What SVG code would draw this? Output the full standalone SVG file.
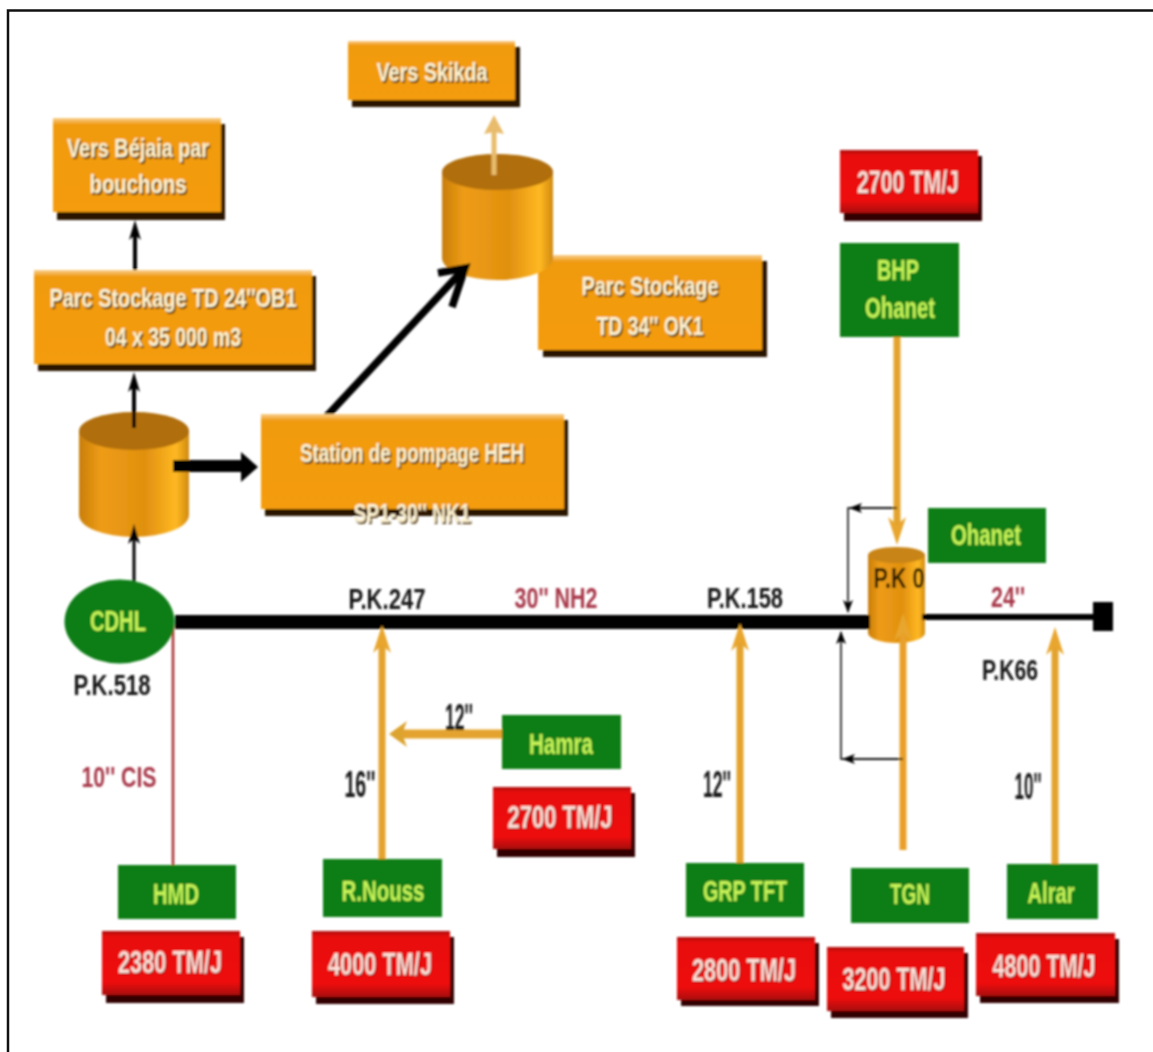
<svg xmlns="http://www.w3.org/2000/svg" width="1153" height="1052" viewBox="0 0 1153 1052">
<style>
text{font-family:"Liberation Sans",Arial,sans-serif;text-anchor:middle;font-weight:bold}
.o{fill:url(#og)}.os{fill:#2a1200}
.g{fill:#0b7d14}.r{fill:url(#rg)}.rs{fill:#300303}
.ot{fill:#fff4d2;font-size:26px;text-shadow:2px 2px 1px #5a3a00}
.gt{fill:#c8f458;font-size:29px}
.rt{fill:#fde0d6;font-size:31px;text-shadow:1px 1px 1px #600}
.bt{fill:#161616;font-size:30px}
.big{font-size:36px}
.dr{fill:#a8384a;font-size:30px}
.ga{stroke:#e3a32e;fill:none}.k{stroke:#000;fill:none}
</style>
<defs>
<filter id="soft" filterUnits="userSpaceOnUse" x="0" y="0" width="1153" height="1052"><feGaussianBlur stdDeviation="0.8"/></filter>
<linearGradient id="og" x1="0" y1="0" x2="0" y2="1"><stop offset="0" stop-color="#f8d090"/><stop offset=".07" stop-color="#f09a10"/><stop offset="1" stop-color="#f49c0e"/></linearGradient>
<linearGradient id="rg" x1="0" y1="0" x2="0" y2="1"><stop offset="0" stop-color="#a81010"/><stop offset=".08" stop-color="#e80c0c"/><stop offset=".8" stop-color="#ee0808"/><stop offset="1" stop-color="#a80808"/></linearGradient>
<linearGradient id="cy" x1="0" y1="0" x2="1" y2="0"><stop offset="0" stop-color="#c87e0c"/><stop offset=".2" stop-color="#ee9c14"/><stop offset=".6" stop-color="#e09010"/><stop offset=".88" stop-color="#ffb822"/><stop offset="1" stop-color="#d08a10"/></linearGradient>
<marker id="ak" markerUnits="userSpaceOnUse" markerWidth="24" markerHeight="14" refX="12" refY="7" orient="auto"><path d="M0 1L20 7L0 13L5 7Z" fill="#000"/></marker>
<marker id="ak2" markerUnits="userSpaceOnUse" markerWidth="14" markerHeight="12" refX="12" refY="6" orient="auto"><path d="M0 1L13 6L0 11L3 6Z" fill="#000"/></marker>
<marker id="ao" markerUnits="userSpaceOnUse" markerWidth="30" markerHeight="20" refX="16" refY="10" orient="auto"><path d="M0 1L28 10L0 19L8 10Z" fill="#e8a62e"/></marker>
<marker id="ao2" markerUnits="userSpaceOnUse" markerWidth="20" markerHeight="28" refX="12" refY="14" orient="auto"><path d="M0 1L18 14L0 27L5 14Z" fill="#dca32e"/></marker>
<marker id="ao3" markerUnits="userSpaceOnUse" markerWidth="20" markerHeight="22" refX="10" refY="11" orient="auto"><path d="M0 1L19 11L0 21L2 11Z" fill="#e8bc6c"/></marker>
</defs>
<path id="frame" d="M8 1052V10.500H1153" fill="none" stroke="#111" stroke-width="2.500"/>
<g filter="url(#soft)">
<g id="parc-ok1"><rect class="os" x="543" y="261" width="224" height="96"/><rect class="o" x="538" y="255" width="224" height="95"/><text class="ot" x="650" y="295" textLength="137" lengthAdjust="spacingAndGlyphs">Parc Stockage</text><text class="ot" x="650" y="335" textLength="107" lengthAdjust="spacingAndGlyphs">TD 34'' OK1</text></g>
<g id="tank-1"><path d="M79 431V515A55 22 0 0 0 189 515V431Z" fill="url(#cy)"/><ellipse cx="134" cy="431" rx="55" ry="19" fill="#b06e08"/></g>
<g id="tank-2"><path d="M442 172V258A55.500 22 0 0 0 553 258V172Z" fill="url(#cy)"/><ellipse cx="497.500" cy="172" rx="55.500" ry="18" fill="#b06e08"/></g>
<g id="tank-pk0"><path d="M868 555V633A28.500 10 0 0 0 925 633V555Z" fill="url(#cy)"/><ellipse cx="896.500" cy="555" rx="28.500" ry="8" fill="#c88414"/><text x="899" y="588" style="fill:#2a1a00;font-size:30px" textLength="51" lengthAdjust="spacingAndGlyphs">P.K 0</text></g>
<g id="connectors">
<path d="M135 270V228" class="k" stroke-width="4" marker-end="url(#ak)"/>
<path d="M134 428V380" class="k" stroke-width="4" marker-end="url(#ak)"/>
<path d="M134 582V532" class="k" stroke-width="3" marker-end="url(#ak)"/>
<path d="M173 466H244" class="k" stroke-width="12"/>
<path d="M241 452L258 467L241 482Z" fill="#000"/>
<path d="M325 418L463 270" class="k" stroke-width="7.500"/>
<path d="M438 273L465 268L452 307" class="k" stroke-width="7.500"/>
<path d="M175 622H870" class="k" stroke-width="14"/>
<path d="M922 617H1095" class="k" stroke-width="6"/>
<path d="M173 624V865" stroke="#a83030" stroke-width="2.500" fill="none"/>
<path d="M382 860V637" class="ga" stroke-width="7" marker-end="url(#ao)"/>
<path d="M502 734H395" class="ga" stroke-width="9" marker-end="url(#ao2)"/>
<path d="M740 863V635" class="ga" stroke-width="7" marker-end="url(#ao)"/>
<path d="M1055 864V639" class="ga" stroke-width="7" marker-end="url(#ao)"/>
<path d="M897 337V533" class="ga" stroke-width="7" marker-end="url(#ao)"/>
<path d="M903 850V625" stroke="#e8a02a" stroke-width="7" fill="none" marker-end="url(#ao)"/>
<path d="M494 175V124" stroke="#e8bc6c" stroke-width="5" fill="none" marker-end="url(#ao3)"/>
<path d="M897 508H848V612" class="k" stroke-width="1.500" marker-end="url(#ak2)"/>
<path d="M897 508H850" class="k" stroke-width="1.500" marker-end="url(#ak2)"/>
<path d="M903 759H841V632" class="k" stroke-width="1.500" marker-end="url(#ak2)"/>
<path d="M903 759H843" class="k" stroke-width="1.500" marker-end="url(#ak2)"/>
</g>
<g id="skikda"><rect class="os" x="352" y="47" width="168" height="60"/><rect class="o" x="348" y="41" width="167" height="59"/><text class="ot" x="432" y="81" textLength="111" lengthAdjust="spacingAndGlyphs">Vers Skikda</text></g>
<g id="bejaia"><rect class="os" x="57" y="124" width="168" height="96"/><rect class="o" x="53" y="118" width="168" height="94"/><text class="ot" x="138" y="157" textLength="142" lengthAdjust="spacingAndGlyphs">Vers Béjaia par</text><text class="ot" x="138" y="193" textLength="97" lengthAdjust="spacingAndGlyphs">bouchons</text></g>
<g id="parc-ob1"><rect class="os" x="38" y="276" width="278" height="95"/><rect class="o" x="34" y="270" width="278" height="94"/><text class="ot" x="173" y="307" textLength="247" lengthAdjust="spacingAndGlyphs">Parc Stockage TD 24''OB1</text><text class="ot" x="173" y="346" textLength="136" lengthAdjust="spacingAndGlyphs">04 x 35 000 m3</text></g>
<g id="station"><rect class="os" x="265" y="420" width="303" height="96"/><rect class="o" x="261" y="414" width="303" height="95"/><text class="ot" x="412" y="462" textLength="224" lengthAdjust="spacingAndGlyphs">Station de pompage HEH</text><text class="ot" x="412" y="522" textLength="117" lengthAdjust="spacingAndGlyphs">SP1-30'' NK1</text></g>
<g id="cdhl"><ellipse cx="119.500" cy="621.500" rx="55" ry="42" fill="#0b7d14"/><text class="gt" x="118" y="631" textLength="56" lengthAdjust="spacingAndGlyphs">CDHL</text></g>
<g id="end-cap"><rect x="1093" y="602" width="20" height="29" fill="#000"/></g>
<g id="hmd"><rect class="g" x="118" y="865" width="118" height="54"/><text class="gt" x="176" y="904" textLength="46" lengthAdjust="spacingAndGlyphs">HMD</text></g>
<g id="rnouss"><rect class="g" x="323" y="859" width="119" height="58"/><text class="gt" x="383" y="901" textLength="83" lengthAdjust="spacingAndGlyphs">R.Nouss</text></g>
<g id="hamra"><rect class="g" x="502" y="715" width="119" height="54"/><text class="gt" x="561" y="754" textLength="64" lengthAdjust="spacingAndGlyphs">Hamra</text></g>
<g id="grp-tft"><rect class="g" x="686" y="863" width="118" height="54"/><text class="gt" x="745" y="901" textLength="84" lengthAdjust="spacingAndGlyphs">GRP TFT</text></g>
<g id="tgn"><rect class="g" x="851" y="868" width="118" height="55"/><text class="gt" x="910" y="904" textLength="40" lengthAdjust="spacingAndGlyphs">TGN</text></g>
<g id="alrar"><rect class="g" x="1007" y="864" width="91" height="55"/><text class="gt" x="1051" y="903" textLength="47" lengthAdjust="spacingAndGlyphs">Alrar</text></g>
<g id="ohanet"><rect class="g" x="928" y="508" width="118" height="55"/><text class="gt" x="986" y="545" textLength="70" lengthAdjust="spacingAndGlyphs">Ohanet</text></g>
<g id="bhp"><rect class="g" x="840" y="243" width="119" height="94"/><text class="gt" x="898" y="280" textLength="42" lengthAdjust="spacingAndGlyphs">BHP</text><text class="gt" x="900" y="318" textLength="70" lengthAdjust="spacingAndGlyphs">Ohanet</text></g>
<g id="r-2700a"><rect class="rs" x="844" y="156" width="138" height="65"/><rect class="r" x="840" y="150" width="138" height="63"/><text class="rt" x="908" y="193" textLength="102" lengthAdjust="spacingAndGlyphs">2700 TM/J</text></g>
<g id="r-2700b"><rect class="rs" x="497" y="793" width="138" height="64"/><rect class="r" x="493" y="787" width="138" height="62"/><text class="rt" x="560" y="828" textLength="105" lengthAdjust="spacingAndGlyphs">2700 TM/J</text></g>
<g id="r-2380"><rect class="rs" x="106" y="937" width="138" height="66"/><rect class="r" x="102" y="931" width="138" height="64"/><text class="rt" x="170" y="973" textLength="104" lengthAdjust="spacingAndGlyphs">2380 TM/J</text></g>
<g id="r-4000"><rect class="rs" x="316" y="937" width="138" height="67"/><rect class="r" x="312" y="931" width="138" height="66"/><text class="rt" x="380" y="975" textLength="104" lengthAdjust="spacingAndGlyphs">4000 TM/J</text></g>
<g id="r-2800"><rect class="rs" x="681" y="943" width="138" height="63"/><rect class="r" x="677" y="937" width="138" height="63"/><text class="rt" x="744" y="981" textLength="104" lengthAdjust="spacingAndGlyphs">2800 TM/J</text></g>
<g id="r-3200"><rect class="rs" x="831" y="953" width="137" height="65"/><rect class="r" x="827" y="947" width="137" height="64"/><text class="rt" x="894" y="990" textLength="103" lengthAdjust="spacingAndGlyphs">3200 TM/J</text></g>
<g id="r-4800"><rect class="rs" x="980" y="939" width="139" height="64"/><rect class="r" x="976" y="933" width="139" height="63"/><text class="rt" x="1044" y="977" textLength="103" lengthAdjust="spacingAndGlyphs">4800 TM/J</text></g>
<g id="labels">
<text class="bt" x="112" y="695" textLength="77" lengthAdjust="spacingAndGlyphs">P.K.518</text>
<text class="bt" x="387" y="609" textLength="77" lengthAdjust="spacingAndGlyphs">P.K.247</text>
<text class="bt" x="745" y="608" textLength="76" lengthAdjust="spacingAndGlyphs">P.K.158</text>
<text class="bt" x="1010" y="680" textLength="56" lengthAdjust="spacingAndGlyphs">P.K66</text>
<text class="dr" x="556" y="608" textLength="83" lengthAdjust="spacingAndGlyphs">30'' NH2</text>
<text class="dr" x="1008" y="607" textLength="34" lengthAdjust="spacingAndGlyphs">24''</text>
<text class="dr" x="119" y="787" textLength="75" lengthAdjust="spacingAndGlyphs">10'' CIS</text>
<text class="bt big" x="360" y="797" textLength="31" lengthAdjust="spacingAndGlyphs">16''</text>
<text class="bt big" x="459" y="730" textLength="28" lengthAdjust="spacingAndGlyphs">12''</text>
<text class="bt big" x="717" y="797" textLength="28" lengthAdjust="spacingAndGlyphs">12''</text>
<text class="bt big" x="1028" y="799" textLength="27" lengthAdjust="spacingAndGlyphs">10''</text>
</g>
</g>
</svg>
